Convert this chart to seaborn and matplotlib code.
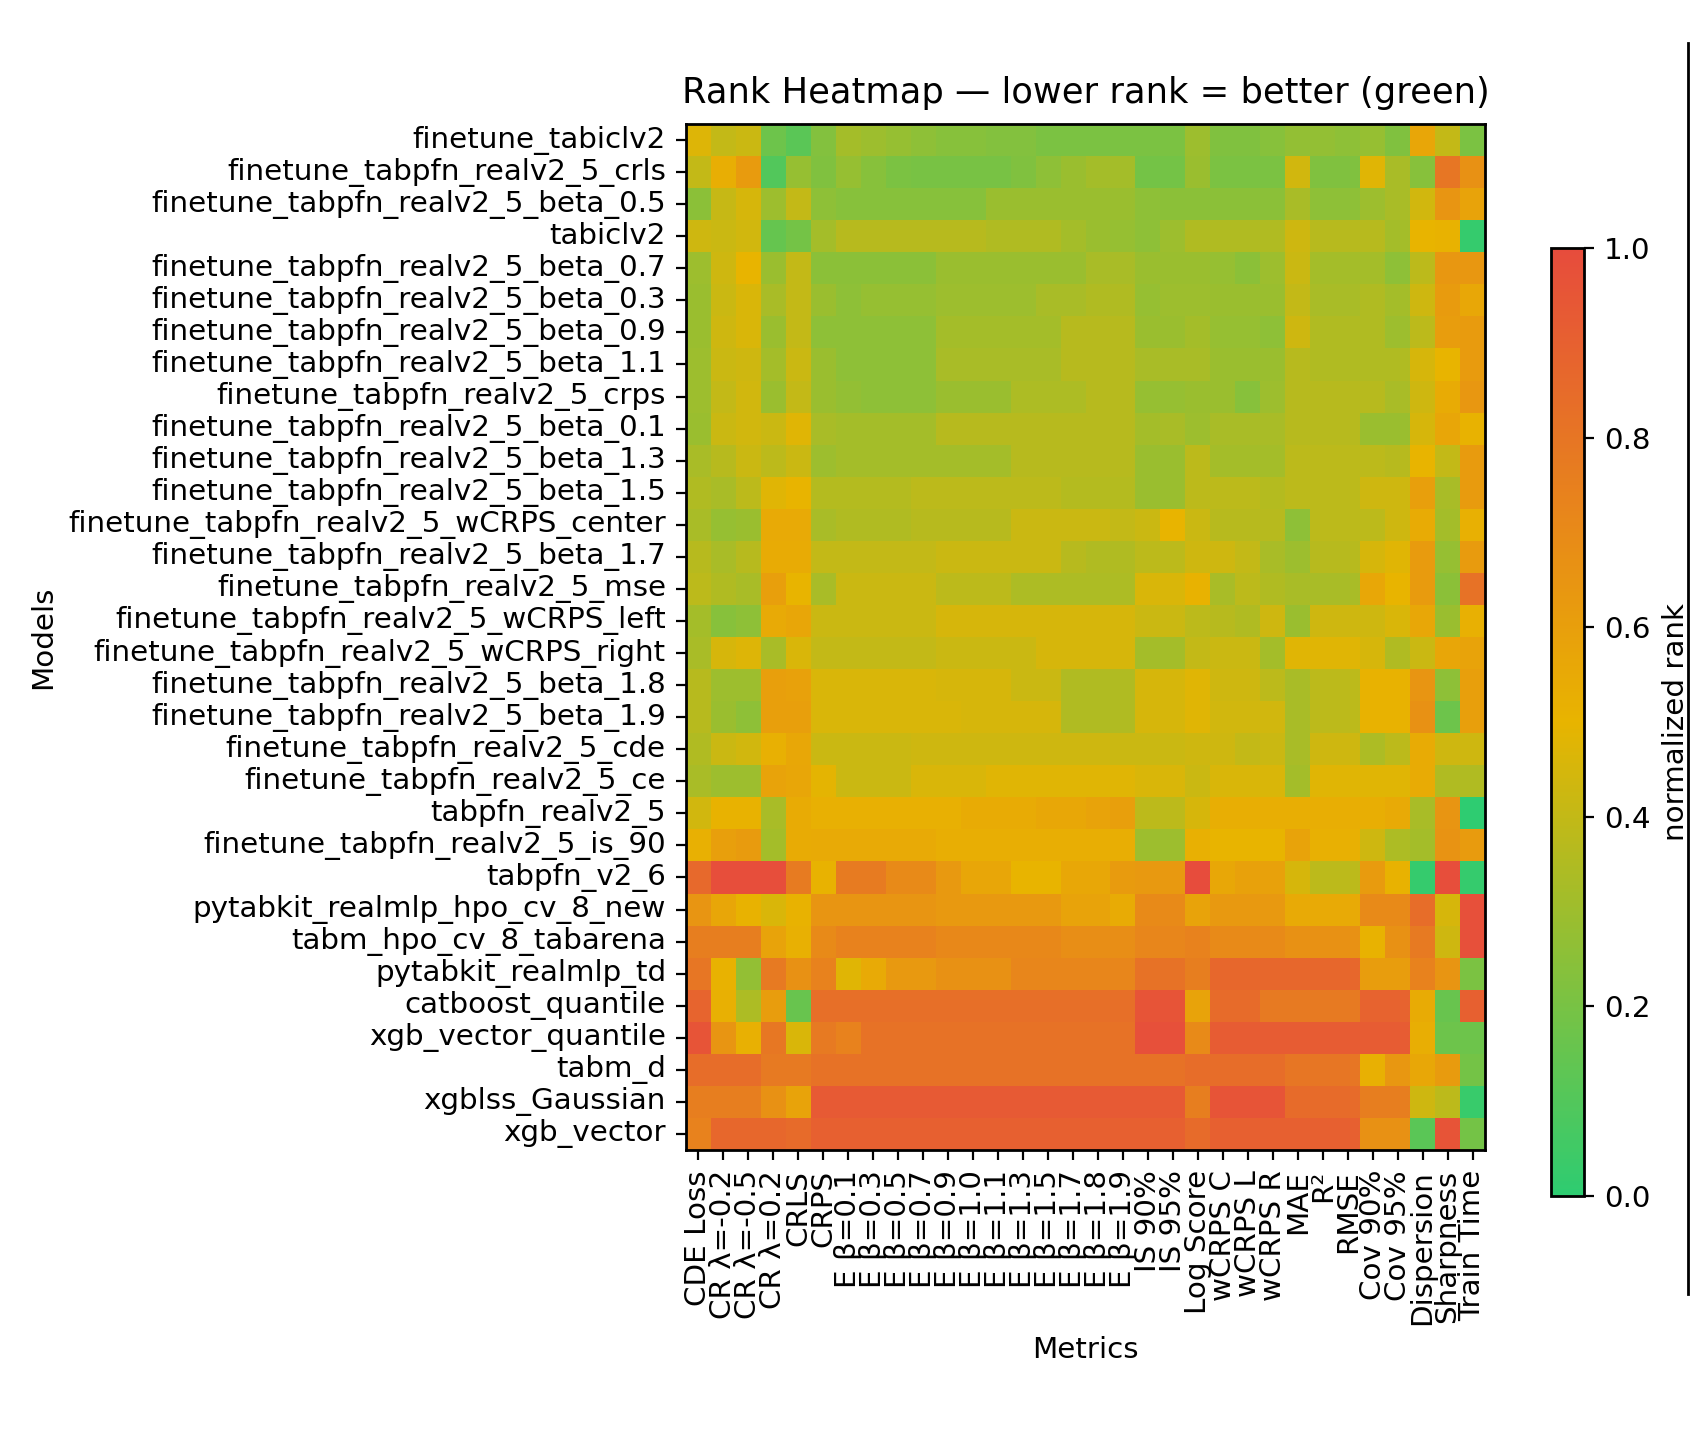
import numpy as np
import pandas as pd
import matplotlib
matplotlib.use("Agg")
import matplotlib.pyplot as plt
import seaborn as sns
from matplotlib.colors import LinearSegmentedColormap
from matplotlib.lines import Line2D

models = [
    "finetune_tabiclv2",
    "finetune_tabpfn_realv2_5_crls",
    "finetune_tabpfn_realv2_5_beta_0.5",
    "tabiclv2",
    "finetune_tabpfn_realv2_5_beta_0.7",
    "finetune_tabpfn_realv2_5_beta_0.3",
    "finetune_tabpfn_realv2_5_beta_0.9",
    "finetune_tabpfn_realv2_5_beta_1.1",
    "finetune_tabpfn_realv2_5_crps",
    "finetune_tabpfn_realv2_5_beta_0.1",
    "finetune_tabpfn_realv2_5_beta_1.3",
    "finetune_tabpfn_realv2_5_beta_1.5",
    "finetune_tabpfn_realv2_5_wCRPS_center",
    "finetune_tabpfn_realv2_5_beta_1.7",
    "finetune_tabpfn_realv2_5_mse",
    "finetune_tabpfn_realv2_5_wCRPS_left",
    "finetune_tabpfn_realv2_5_wCRPS_right",
    "finetune_tabpfn_realv2_5_beta_1.8",
    "finetune_tabpfn_realv2_5_beta_1.9",
    "finetune_tabpfn_realv2_5_cde",
    "finetune_tabpfn_realv2_5_ce",
    "tabpfn_realv2_5",
    "finetune_tabpfn_realv2_5_is_90",
    "tabpfn_v2_6",
    "pytabkit_realmlp_hpo_cv_8_new",
    "tabm_hpo_cv_8_tabarena",
    "pytabkit_realmlp_td",
    "catboost_quantile",
    "xgb_vector_quantile",
    "tabm_d",
    "xgblss_Gaussian",
    "xgb_vector",
]

metrics = [
    "CDE Loss", "CR λ=-0.2", "CR λ=-0.5", "CR λ=0.2", "CRLS", "CRPS",
    "E β=0.1", "E β=0.3", "E β=0.5", "E β=0.7", "E β=0.9", "E β=1.0",
    "E β=1.1", "E β=1.3", "E β=1.5", "E β=1.7", "E β=1.8", "E β=1.9",
    "IS 90%", "IS 95%", "Log Score", "wCRPS C", "wCRPS L", "wCRPS R",
    "MAE", "R²", "RMSE", "Cov 90%", "Cov 95%", "Dispersion", "Sharpness",
    "Train Time",
]

row_00 = [0.47, 0.40, 0.42, 0.17, 0.12, 0.23, 0.32, 0.30, 0.28, 0.26, 0.24, 0.24, 0.23, 0.23, 0.21, 0.21,
          0.21, 0.21, 0.21, 0.21, 0.30, 0.22, 0.22, 0.24, 0.27, 0.27, 0.26, 0.28, 0.22, 0.57, 0.40, 0.21]
row_01 = [0.40, 0.53, 0.62, 0.10, 0.28, 0.22, 0.28, 0.24, 0.21, 0.20, 0.20, 0.20, 0.20, 0.22, 0.26, 0.29,
          0.32, 0.32, 0.19, 0.19, 0.29, 0.21, 0.21, 0.21, 0.44, 0.22, 0.22, 0.48, 0.33, 0.24, 0.80, 0.67]
row_02 = [0.25, 0.41, 0.45, 0.30, 0.40, 0.26, 0.24, 0.24, 0.24, 0.24, 0.24, 0.24, 0.29, 0.29, 0.29, 0.29,
          0.29, 0.29, 0.26, 0.25, 0.25, 0.25, 0.25, 0.25, 0.33, 0.26, 0.26, 0.30, 0.33, 0.44, 0.65, 0.58]
row_03 = [0.43, 0.42, 0.44, 0.15, 0.19, 0.32, 0.37, 0.37, 0.37, 0.37, 0.37, 0.37, 0.35, 0.35, 0.35, 0.32,
          0.29, 0.28, 0.26, 0.30, 0.35, 0.35, 0.35, 0.35, 0.43, 0.37, 0.37, 0.37, 0.32, 0.50, 0.51, 0.02]
row_04 = [0.30, 0.43, 0.50, 0.29, 0.40, 0.25, 0.25, 0.25, 0.25, 0.25, 0.29, 0.29, 0.29, 0.29, 0.29, 0.29,
          0.33, 0.33, 0.29, 0.29, 0.29, 0.28, 0.25, 0.30, 0.42, 0.32, 0.32, 0.32, 0.26, 0.38, 0.64, 0.64]
row_05 = [0.29, 0.42, 0.46, 0.33, 0.40, 0.29, 0.26, 0.28, 0.28, 0.28, 0.30, 0.30, 0.30, 0.30, 0.33, 0.33,
          0.35, 0.35, 0.28, 0.30, 0.30, 0.29, 0.29, 0.29, 0.40, 0.33, 0.33, 0.35, 0.32, 0.43, 0.62, 0.56]
row_06 = [0.29, 0.43, 0.46, 0.29, 0.40, 0.26, 0.26, 0.26, 0.26, 0.26, 0.32, 0.32, 0.32, 0.32, 0.32, 0.37,
          0.37, 0.37, 0.29, 0.29, 0.32, 0.28, 0.28, 0.26, 0.43, 0.35, 0.35, 0.35, 0.30, 0.38, 0.61, 0.62]
row_07 = [0.30, 0.42, 0.43, 0.32, 0.42, 0.29, 0.26, 0.26, 0.26, 0.26, 0.33, 0.33, 0.33, 0.33, 0.33, 0.37,
          0.37, 0.37, 0.33, 0.33, 0.33, 0.29, 0.29, 0.29, 0.37, 0.35, 0.35, 0.35, 0.35, 0.45, 0.50, 0.62]
row_08 = [0.30, 0.40, 0.44, 0.29, 0.40, 0.29, 0.27, 0.26, 0.26, 0.26, 0.29, 0.29, 0.29, 0.34, 0.34, 0.34,
          0.37, 0.37, 0.28, 0.28, 0.29, 0.29, 0.24, 0.30, 0.37, 0.37, 0.37, 0.37, 0.33, 0.43, 0.54, 0.64]
row_09 = [0.29, 0.42, 0.44, 0.42, 0.48, 0.33, 0.32, 0.32, 0.32, 0.32, 0.37, 0.37, 0.37, 0.37, 0.37, 0.37,
          0.37, 0.37, 0.32, 0.33, 0.30, 0.33, 0.33, 0.33, 0.37, 0.37, 0.37, 0.29, 0.29, 0.45, 0.57, 0.51]
row_10 = [0.33, 0.37, 0.42, 0.38, 0.42, 0.30, 0.32, 0.32, 0.32, 0.32, 0.32, 0.32, 0.32, 0.37, 0.37, 0.37,
          0.37, 0.37, 0.29, 0.29, 0.38, 0.32, 0.32, 0.32, 0.38, 0.38, 0.38, 0.38, 0.37, 0.50, 0.40, 0.62]
row_11 = [0.35, 0.33, 0.38, 0.48, 0.50, 0.36, 0.36, 0.36, 0.36, 0.38, 0.38, 0.38, 0.38, 0.38, 0.38, 0.36,
          0.36, 0.36, 0.29, 0.29, 0.38, 0.38, 0.38, 0.36, 0.38, 0.38, 0.38, 0.43, 0.43, 0.60, 0.33, 0.62]
row_12 = [0.33, 0.28, 0.29, 0.55, 0.55, 0.33, 0.35, 0.35, 0.35, 0.37, 0.37, 0.37, 0.37, 0.42, 0.42, 0.42,
          0.42, 0.40, 0.42, 0.50, 0.42, 0.37, 0.37, 0.37, 0.26, 0.38, 0.38, 0.38, 0.43, 0.54, 0.32, 0.52]
row_13 = [0.37, 0.33, 0.37, 0.54, 0.54, 0.40, 0.40, 0.40, 0.40, 0.40, 0.42, 0.42, 0.42, 0.42, 0.42, 0.37,
          0.35, 0.35, 0.38, 0.38, 0.43, 0.43, 0.40, 0.33, 0.30, 0.37, 0.37, 0.45, 0.48, 0.62, 0.28, 0.62]
row_14 = [0.38, 0.35, 0.33, 0.60, 0.50, 0.33, 0.42, 0.42, 0.42, 0.42, 0.38, 0.38, 0.38, 0.34, 0.34, 0.34,
          0.34, 0.34, 0.46, 0.46, 0.51, 0.33, 0.38, 0.35, 0.33, 0.33, 0.33, 0.56, 0.50, 0.62, 0.25, 0.82]
row_15 = [0.32, 0.24, 0.26, 0.55, 0.57, 0.42, 0.42, 0.42, 0.42, 0.42, 0.45, 0.45, 0.45, 0.45, 0.45, 0.45,
          0.45, 0.45, 0.42, 0.42, 0.38, 0.37, 0.35, 0.43, 0.29, 0.43, 0.43, 0.43, 0.46, 0.56, 0.29, 0.52]
row_16 = [0.33, 0.45, 0.47, 0.33, 0.46, 0.40, 0.40, 0.40, 0.40, 0.40, 0.42, 0.42, 0.42, 0.42, 0.45, 0.45,
          0.45, 0.45, 0.32, 0.32, 0.40, 0.42, 0.42, 0.32, 0.48, 0.48, 0.48, 0.45, 0.35, 0.42, 0.57, 0.58]
row_17 = [0.37, 0.30, 0.30, 0.60, 0.59, 0.46, 0.46, 0.46, 0.46, 0.46, 0.45, 0.45, 0.45, 0.42, 0.42, 0.35,
          0.35, 0.35, 0.45, 0.45, 0.48, 0.43, 0.43, 0.38, 0.33, 0.38, 0.38, 0.51, 0.51, 0.65, 0.26, 0.60]
row_18 = [0.37, 0.29, 0.26, 0.60, 0.60, 0.46, 0.46, 0.46, 0.46, 0.46, 0.46, 0.45, 0.45, 0.45, 0.45, 0.35,
          0.35, 0.35, 0.45, 0.45, 0.48, 0.44, 0.44, 0.44, 0.33, 0.38, 0.38, 0.51, 0.51, 0.67, 0.17, 0.60]
row_19 = [0.35, 0.42, 0.44, 0.52, 0.56, 0.42, 0.42, 0.42, 0.42, 0.43, 0.43, 0.43, 0.43, 0.43, 0.43, 0.43,
          0.43, 0.42, 0.42, 0.42, 0.43, 0.43, 0.40, 0.42, 0.33, 0.43, 0.43, 0.34, 0.38, 0.54, 0.43, 0.43]
row_20 = [0.33, 0.30, 0.30, 0.58, 0.57, 0.49, 0.42, 0.42, 0.42, 0.46, 0.46, 0.46, 0.48, 0.48, 0.48, 0.48,
          0.48, 0.48, 0.46, 0.46, 0.42, 0.46, 0.46, 0.46, 0.32, 0.48, 0.48, 0.48, 0.48, 0.54, 0.35, 0.35]
row_21 = [0.44, 0.51, 0.51, 0.33, 0.54, 0.52, 0.52, 0.52, 0.52, 0.52, 0.52, 0.54, 0.54, 0.54, 0.56, 0.56,
          0.58, 0.60, 0.38, 0.38, 0.45, 0.53, 0.53, 0.53, 0.53, 0.53, 0.53, 0.53, 0.55, 0.33, 0.65, 0.00]
row_22 = [0.52, 0.60, 0.62, 0.32, 0.54, 0.55, 0.55, 0.55, 0.55, 0.55, 0.53, 0.53, 0.53, 0.53, 0.53, 0.53,
          0.53, 0.53, 0.30, 0.30, 0.52, 0.50, 0.50, 0.50, 0.58, 0.52, 0.52, 0.43, 0.34, 0.32, 0.66, 0.62]
row_23 = [0.86, 0.99, 0.99, 0.99, 0.77, 0.51, 0.77, 0.77, 0.70, 0.70, 0.63, 0.57, 0.57, 0.50, 0.50, 0.56,
          0.56, 0.62, 0.63, 0.63, 1.00, 0.56, 0.59, 0.59, 0.45, 0.38, 0.38, 0.62, 0.51, 0.02, 0.99, 0.02]
row_24 = [0.65, 0.57, 0.51, 0.46, 0.51, 0.65, 0.65, 0.65, 0.65, 0.65, 0.63, 0.63, 0.63, 0.63, 0.63, 0.58,
          0.58, 0.54, 0.70, 0.70, 0.58, 0.63, 0.63, 0.63, 0.55, 0.55, 0.55, 0.70, 0.70, 0.84, 0.45, 0.98]
row_25 = [0.76, 0.76, 0.76, 0.58, 0.52, 0.70, 0.74, 0.74, 0.74, 0.74, 0.71, 0.71, 0.71, 0.71, 0.71, 0.68,
          0.68, 0.68, 0.72, 0.72, 0.74, 0.70, 0.70, 0.70, 0.67, 0.67, 0.67, 0.51, 0.67, 0.78, 0.43, 0.98]
row_26 = [0.80, 0.51, 0.27, 0.78, 0.67, 0.74, 0.48, 0.55, 0.63, 0.63, 0.67, 0.67, 0.67, 0.72, 0.72, 0.72,
          0.72, 0.72, 0.82, 0.82, 0.76, 0.87, 0.87, 0.87, 0.87, 0.87, 0.87, 0.61, 0.61, 0.74, 0.65, 0.21]
row_27 = [0.88, 0.52, 0.34, 0.61, 0.16, 0.83, 0.83, 0.83, 0.83, 0.83, 0.83, 0.83, 0.83, 0.83, 0.83, 0.83,
          0.83, 0.83, 0.96, 0.96, 0.58, 0.85, 0.85, 0.78, 0.78, 0.78, 0.78, 0.89, 0.89, 0.54, 0.16, 0.90]
row_28 = [0.96, 0.65, 0.52, 0.79, 0.46, 0.78, 0.74, 0.82, 0.82, 0.82, 0.82, 0.82, 0.82, 0.82, 0.82, 0.82,
          0.82, 0.82, 0.98, 0.98, 0.70, 0.92, 0.92, 0.92, 0.92, 0.92, 0.92, 0.92, 0.92, 0.53, 0.17, 0.17]
row_29 = [0.84, 0.84, 0.84, 0.78, 0.78, 0.82, 0.82, 0.82, 0.82, 0.82, 0.82, 0.82, 0.82, 0.82, 0.82, 0.82,
          0.82, 0.82, 0.82, 0.82, 0.84, 0.84, 0.84, 0.84, 0.80, 0.80, 0.80, 0.52, 0.64, 0.56, 0.62, 0.19]
row_30 = [0.76, 0.76, 0.76, 0.67, 0.58, 0.93, 0.93, 0.93, 0.93, 0.93, 0.93, 0.93, 0.93, 0.93, 0.93, 0.93,
          0.93, 0.93, 0.93, 0.93, 0.76, 0.96, 0.96, 0.96, 0.85, 0.85, 0.85, 0.76, 0.76, 0.43, 0.38, 0.03]
row_31 = [0.74, 0.87, 0.87, 0.87, 0.85, 0.90, 0.90, 0.90, 0.90, 0.90, 0.90, 0.90, 0.90, 0.90, 0.90, 0.90,
          0.90, 0.90, 0.90, 0.90, 0.85, 0.90, 0.90, 0.90, 0.90, 0.90, 0.90, 0.67, 0.67, 0.12, 0.96, 0.19]

rows = [row_00, row_01, row_02, row_03, row_04, row_05, row_06, row_07,
        row_08, row_09, row_10, row_11, row_12, row_13, row_14, row_15,
        row_16, row_17, row_18, row_19, row_20, row_21, row_22, row_23,
        row_24, row_25, row_26, row_27, row_28, row_29, row_30, row_31]

df = pd.DataFrame(np.array(rows, dtype=float), index=models, columns=metrics)

cmap = LinearSegmentedColormap.from_list("rank_cmap", ["#2ecc71", "#e8b400", "#e74c3c"])

FS = 10.6
W, H = 1704, 1438
fig = plt.figure(figsize=(W / 200, H / 200), dpi=200)
ax = fig.add_axes([686 / W, 1 - 1150 / H, 799 / W, 1026 / H])
cax = fig.add_axes([1551 / W, 1 - 1196 / H, 33 / W, 948 / H])

sns.heatmap(df, ax=ax, cmap=cmap, vmin=0, vmax=1, cbar_ax=cax,
            cbar_kws={"label": "normalized rank"},
            xticklabels=True, yticklabels=True)

for s in ax.spines.values():
    s.set_visible(True)
    s.set_linewidth(1.0)
    s.set_color("black")
cbar = ax.collections[0].colorbar
cbar.outline.set_visible(True)
cbar.outline.set_linewidth(1.0)
cbar.outline.set_edgecolor("black")
cbar.set_ticks([0.0, 0.2, 0.4, 0.6, 0.8, 1.0])
cbar.ax.tick_params(labelsize=FS, length=3.7)
cbar.set_label("normalized rank", fontsize=FS)

ax.tick_params(axis="both", length=3.7, labelsize=FS)
plt.setp(ax.get_xticklabels(), rotation=90, va="top", ha="center")
plt.setp(ax.get_yticklabels(), rotation=0, va="center", ha="right")
ax.set_title("Rank Heatmap — lower rank = better (green)", fontsize=12.7, pad=7.5)
ax.set_xlabel("Metrics", fontsize=FS)
ax.set_ylabel("Models", fontsize=FS)

fig.add_artist(Line2D([1688 / W, 1688 / W], [1 - 43 / H, 1 - 1294 / H],
                      transform=fig.transFigure, color="black", linewidth=1.0))

fig.savefig("out.png", dpi=200, facecolor="white")
